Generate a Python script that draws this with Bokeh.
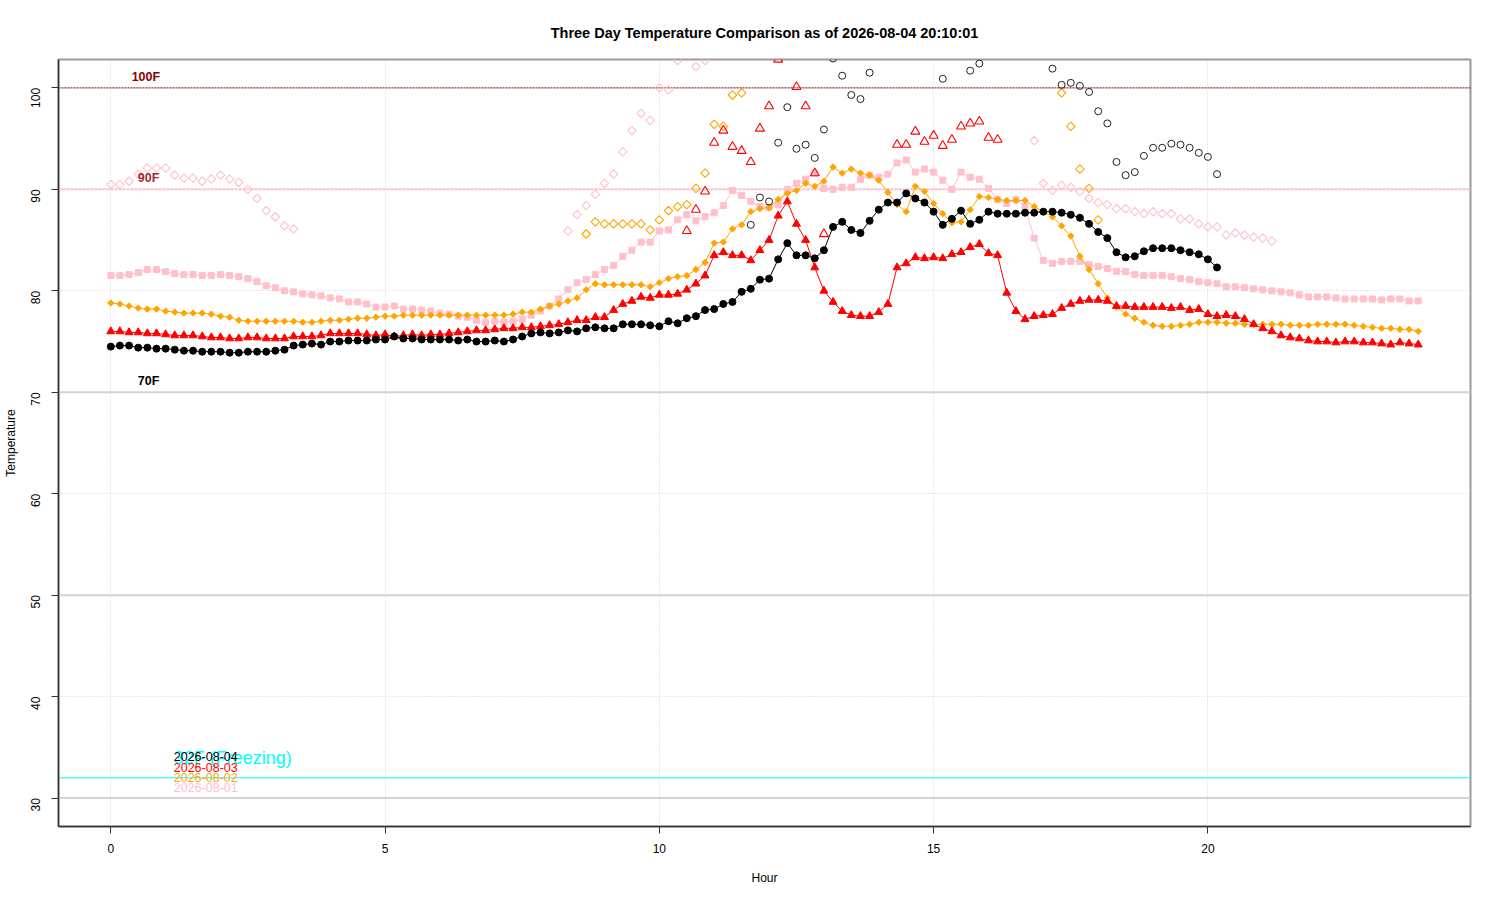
import math
from bokeh.plotting import figure
from bokeh.models import Span, Range1d, FixedTicker
from bokeh.embed import file_html
from bokeh.resources import INLINE
from bokeh.core.properties import value

FONT = "Liberation Sans"

title_text = "Three Day Temperature Comparison as of 2026-08-04 20:10:01"

# readings every 10 minutes (hour of day)
hours = [i / 6 for i in range(144)]

day_labels = ["2026-08-04", "2026-08-03", "2026-08-02", "2026-08-01"]
day_colors = ["black", "red", "orange", "pink"]

# main sensor, filled symbols
d04 = [74.5, 74.6, 74.6, 74.4, 74.4, 74.3, 74.3, 74.2, 74.1, 74.1,
       74.0, 74.0, 74.0, 73.9, 73.9, 74.0, 74.0, 74.0, 74.1, 74.2,
       74.6, 74.7, 74.8, 74.7, 75.0, 75.0, 75.1, 75.1, 75.1, 75.2,
       75.2, 75.5, 75.3, 75.3, 75.2, 75.2, 75.2, 75.2, 75.1, 75.2,
       75.0, 75.0, 75.1, 75.0, 75.2, 75.5, 75.8, 75.9, 75.8, 75.9,
       76.1, 76.0, 76.3, 76.4, 76.3, 76.3, 76.7, 76.7, 76.7, 76.6,
       76.5, 77.0, 76.8, 77.3, 77.5, 78.1, 78.2, 78.7, 78.9, 79.9,
       80.2, 81.1, 81.2, 83.1, 84.7, 83.5, 83.5, 83.2, 84.0, 86.3,
       86.8, 86.0, 85.7, 86.9, 88.0, 88.7, 88.7, 89.6, 89.1, 88.7,
       87.8, 86.5, 87.1, 87.9, 86.6, 87.0, 87.8, 87.6, 87.6, 87.6,
       87.7, 87.7, 87.8, 87.8, 87.7, 87.5, 87.2, 86.6, 85.8, 85.2,
       83.8, 83.3, 83.4, 83.9, 84.2, 84.2, 84.2, 84.0, 83.8, 83.6,
       83.1, 82.3]

d03 = [76.0, 76.0, 75.9, 75.9, 75.8, 75.8, 75.7, 75.6, 75.6, 75.6,
       75.5, 75.4, 75.4, 75.3, 75.3, 75.4, 75.4, 75.3, 75.3, 75.3,
       75.5, 75.5, 75.5, 75.6, 75.8, 75.8, 75.8, 75.8, 75.7, 75.6,
       75.7, 75.5, 75.6, 75.7, 75.6, 75.7, 75.7, 75.8, 75.9, 76.0,
       76.1, 76.1, 76.2, 76.3, 76.3, 76.4, 76.4, 76.5, 76.6, 76.7,
       76.9, 77.1, 77.1, 77.4, 77.4, 78.1, 78.7, 79.0, 79.4, 79.3,
       79.6, 79.6, 79.7, 80.1, 80.7, 81.5, 83.5, 83.8, 83.5, 83.5,
       83.0, 84.0, 85.0, 87.4, 88.8, 86.6, 85.0, 82.3, 80.0, 78.9,
       78.0, 77.6, 77.5, 77.5, 77.9, 78.7, 82.3, 82.7, 83.3, 83.2,
       83.3, 83.2, 83.6, 83.8, 84.3, 84.6, 83.7, 83.5, 79.8, 78.0,
       77.2, 77.5, 77.6, 77.7, 78.3, 78.7, 79.0, 79.1, 79.1, 79.0,
       78.5, 78.5, 78.4, 78.4, 78.4, 78.4, 78.3, 78.4, 78.1, 78.2,
       77.7, 77.5, 77.6, 77.5, 77.2, 76.7, 76.3, 76.0, 75.6, 75.4,
       75.3, 75.1, 75.0, 75.0, 74.9, 75.0, 75.0, 74.9, 74.9, 74.8,
       74.7, 74.9, 74.8, 74.7]

d02 = [78.8, 78.7, 78.5, 78.3, 78.2, 78.2, 78.0, 77.9, 77.8, 77.8,
       77.8, 77.7, 77.5, 77.4, 77.1, 77.0, 77.0, 77.0, 77.0, 77.0,
       77.0, 76.9, 76.9, 77.0, 77.1, 77.1, 77.2, 77.3, 77.3, 77.4,
       77.5, 77.5, 77.6, 77.6, 77.6, 77.6, 77.6, 77.6, 77.6, 77.6,
       77.6, 77.6, 77.6, 77.6, 77.7, 77.9, 77.9, 78.2, 78.5, 78.7,
       79.0, 79.3, 80.1, 80.7, 80.6, 80.6, 80.6, 80.6, 80.6, 80.4,
       80.8, 81.2, 81.4, 81.5, 82.1, 82.8, 84.7, 84.8, 86.1, 86.5,
       87.8, 88.1, 88.2, 89.0, 89.6, 89.9, 90.6, 90.3, 90.8, 92.2,
       91.6, 92.0, 91.6, 91.4, 90.9, 89.7, 88.5, 87.8, 90.3, 89.8,
       88.6, 87.6, 86.7, 86.8, 88.0, 89.3, 89.2, 89.0, 88.9, 88.9,
       88.9, 88.3, 87.8, 87.3, 86.4, 85.4, 83.4, 82.1, 80.7, 79.3,
       78.4, 77.7, 77.3, 76.9, 76.6, 76.5, 76.5, 76.6, 76.7, 76.9,
       76.9, 76.9, 76.8, 76.8, 76.7, 76.7, 76.7, 76.7, 76.7, 76.6,
       76.6, 76.6, 76.7, 76.7, 76.7, 76.7, 76.6, 76.5, 76.4, 76.3,
       76.3, 76.2, 76.2, 76.0]

d01 = [81.5, 81.5, 81.6, 81.8, 82.1, 82.1, 81.9, 81.7, 81.6, 81.6,
       81.5, 81.5, 81.6, 81.5, 81.4, 81.2, 80.9, 80.5, 80.3, 80.0,
       79.9, 79.7, 79.6, 79.5, 79.3, 79.2, 78.9, 78.9, 78.7, 78.4,
       78.4, 78.5, 78.2, 78.2, 78.1, 78.0, 77.8, 77.7, 77.5, 77.4,
       77.1, 76.9, 77.0, 76.9, 77.0, 77.2, 77.6, 78.0, 78.5, 79.2,
       80.1, 80.8, 81.1, 81.6, 82.1, 82.5, 83.4, 84.0, 84.8, 84.8,
       85.9, 86.0, 87.0, 87.5, 86.9, 87.3, 87.7, 88.4, 89.9, 89.4,
       88.8, 88.3, 88.2, 88.5, 90.0, 90.6, 91.0, 91.6, 90.1, 90.0,
       90.2, 90.2, 91.0, 91.4, 91.2, 91.5, 92.6, 92.9, 91.7, 92.0,
       91.7, 90.9, 90.0, 91.7, 91.2, 91.0, 90.1, 89.0, 88.6, 89.0,
       88.3, 85.2, 83.0, 82.7, 82.9, 82.9, 82.9, 82.6, 82.4, 82.2,
       81.9, 81.9, 81.6, 81.5, 81.5, 81.5, 81.4, 81.2, 81.1, 80.9,
       80.8, 80.7, 80.4, 80.4, 80.3, 80.2, 80.1, 80.0, 79.9, 79.8,
       79.6, 79.4, 79.4, 79.4, 79.3, 79.2, 79.2, 79.2, 79.2, 79.1,
       79.2, 79.2, 79.0, 79.0]

# second sensor, open symbols (reading index, value); readings above the plot are not shown
d04_alt_idx = list(range(70, 84)) + [91, 94, 95] + list(range(103, 122))
d04_alt = [86.5, 89.2, 88.8, 94.6, 98.1, 94.0, 94.4, 93.1, 95.9, 102.9, 101.2, 99.3, 98.9, 101.5,
           100.9, 101.7, 102.4,
           101.9, 100.3, 100.5, 100.2, 99.6, 97.7, 96.5, 92.7, 91.4, 91.7, 93.3, 94.1, 94.1, 94.5,
           94.4, 94.1, 93.6, 93.2, 91.5]

d03_alt_idx = list(range(63, 74)) + list(range(75, 79)) + list(range(86, 98))
d03_alt = [85.9, 88.0, 89.8, 94.6, 95.8, 94.2, 93.8, 92.7, 96.0, 98.2, 102.8,
           100.1, 98.2, 91.6, 85.6,
           94.4, 94.4, 95.7, 94.7, 95.3, 94.3, 94.9, 96.2, 96.5, 96.7, 95.1, 94.9]

d02_alt_idx = list(range(52, 70)) + list(range(104, 109))
d02_alt = [85.6, 86.8, 86.6, 86.6, 86.6, 86.6, 86.6, 86.0, 87.0, 87.9, 88.3, 88.5, 90.1, 91.6,
           96.4, 96.2, 99.3, 99.5,
           99.5, 96.2, 92.0, 90.1, 87.0]

d01_alt_idx = list(range(0, 21)) + list(range(50, 63)) + [64, 65] + list(range(101, 128))
d01_alt = [90.5, 90.5, 90.8, 91.5, 92.1, 92.1, 92.1, 91.4, 91.1, 91.1, 90.8, 91.0, 91.4, 91.0,
           90.7, 90.0, 89.1, 87.9, 87.3, 86.4, 86.1,
           85.9, 87.5, 88.4, 89.5, 90.6, 91.5, 93.7, 95.8, 97.5, 96.8, 100.0, 99.8, 102.7,
           102.1, 102.7,
           94.8, 90.6, 89.9, 90.4, 90.2, 89.8, 89.1, 88.7, 88.5, 88.1, 88.1, 87.8, 87.6, 87.8,
           87.6, 87.6, 87.1, 87.1, 86.6, 86.3, 86.3, 85.5, 85.7, 85.5, 85.3, 85.2, 84.9]

x_ticks = [0, 5, 10, 15, 20]
y_ticks = [30, 40, 50, 60, 70, 80, 90, 100]
ref_labels = ["100F", "90F", "70F"]
freezing = 32

p = figure(width=1490, height=890, output_backend="svg", toolbar_location=None,
           x_range=Range1d(-0.953, 24.787), y_range=Range1d(27.2, 102.8),
           min_border_left=58, min_border_right=20, min_border_top=59, min_border_bottom=64,
           title=title_text)
p.background_fill_color = "white"
p.border_fill_color = "white"
p.outline_line_color = "#9a9a9a"
p.outline_line_width = 2

p.title.align = "center"
p.title.text_font = FONT
p.title.text_font_size = "14.5px"
p.title.text_font_style = "bold"
p.title.text_color = "black"
p.title.standoff = 38

for ax in (p.xaxis[0], p.yaxis[0]):
    ax.axis_line_color = "#333333"
    ax.axis_line_width = 1.5
    ax.major_tick_line_color = "#333333"
    ax.major_tick_in = 0
    ax.major_tick_out = 7
    ax.minor_tick_line_color = None
    ax.major_label_text_font = FONT
    ax.major_label_text_font_size = "12px"
    ax.major_label_text_color = "black"
    ax.axis_label_text_font = FONT
    ax.axis_label_text_font_size = "12px"
    ax.axis_label_text_font_style = "normal"
    ax.axis_label_text_color = "black"

p.xaxis.ticker = FixedTicker(ticks=x_ticks)
p.yaxis.ticker = FixedTicker(ticks=y_ticks)
p.xaxis.axis_label = "Hour"
p.yaxis.axis_label = "Temperature"
p.xaxis.major_label_standoff = 10
p.xaxis.axis_label_standoff = 15
p.yaxis.major_label_standoff = 16
p.yaxis.axis_label_standoff = 6
p.yaxis.major_label_orientation = math.pi / 2

p.xgrid.ticker = FixedTicker(ticks=x_ticks)
p.ygrid.ticker = FixedTicker(ticks=y_ticks)
for g in (p.xgrid[0], p.ygrid[0]):
    g.grid_line_color = "#d3d3d3"
    g.grid_line_dash = "1 2"
    g.grid_line_width = 1

# reference lines
for v in (30, 50, 70):
    p.add_layout(Span(location=v, dimension="width", line_color="#d3d3d3", line_width=2, level="underlay"))
p.add_layout(Span(location=90, dimension="width", line_color="#FFC0CB", line_width=2,
                  line_dash="3 1", level="underlay"))
p.add_layout(Span(location=100, dimension="width", line_color="#8B0000", line_width=1,
                  line_dash="2 1", level="underlay"))
p.add_layout(Span(location=freezing, dimension="width", line_color="#00FFFF", line_width=1,
                  level="underlay"))


def hx(n):
    return hours[:n]


# filled series (lines + markers)
p.line(hx(len(d01)), d01, line_color="pink", line_width=1)
p.scatter(hx(len(d01)), d01, marker="square", size=6, fill_color="pink", line_color="pink")
p.line(hx(len(d02)), d02, line_color="orange", line_width=1)
p.scatter(hx(len(d02)), d02, marker="square", angle=math.pi / 4, size=4.5,
          fill_color="orange", line_color="orange")
p.line(hx(len(d03)), d03, line_color="red", line_width=1)
p.scatter(hx(len(d03)), d03, marker="triangle", size=8, fill_color="red", line_color="red")
p.line(hx(len(d04)), d04, line_color="black", line_width=1)
p.scatter(hx(len(d04)), d04, marker="circle", size=7, fill_color="black", line_color="black")

# open symbols
p.scatter([hours[i] for i in d01_alt_idx], d01_alt, marker="square", angle=math.pi / 4, size=6,
          fill_color=None, line_color="pink", line_width=1.1)
p.scatter([hours[i] for i in d02_alt_idx], d02_alt, marker="square", angle=math.pi / 4, size=6,
          fill_color=None, line_color="orange", line_width=1.1)
p.scatter([hours[i] for i in d03_alt_idx], d03_alt, marker="triangle", size=9,
          fill_color=None, line_color="red", line_width=1.1)
p.scatter([hours[i] for i in d04_alt_idx], d04_alt, marker="circle", size=7,
          fill_color=None, line_color="#222222", line_width=1.0)

# reference line labels
p.text(x=[0.64, 0.69], y=[101.1, 91.1], text=ref_labels[:2], text_color=["#8B0000", "#A52A2A"],
       text_font=value(FONT), text_font_size=value("12.5px"), text_font_style="bold",
       text_align="center", text_baseline="middle")
p.text(x=[0.69], y=[71.1], text=ref_labels[2:], text_color="black",
       text_font=value(FONT), text_font_size=value("12.5px"), text_font_style="bold",
       text_align="center", text_baseline="middle")

# freezing label and legend
p.text(x=[1.148], y=[34.0], text=["32F (Freezing)"], text_color="#00FFFF",
       text_font=value(FONT), text_font_size=value("18px"),
       text_align="left", text_baseline="middle")
p.text(x=[1.148] * 4, y=[34.13, 33.05, 32.07, 31.08], text=day_labels, text_color=day_colors,
       text_font=value(FONT), text_font_size=value("12.5px"),
       text_align="left", text_baseline="middle")

open("out.html", "w").write(file_html(p, INLINE))
